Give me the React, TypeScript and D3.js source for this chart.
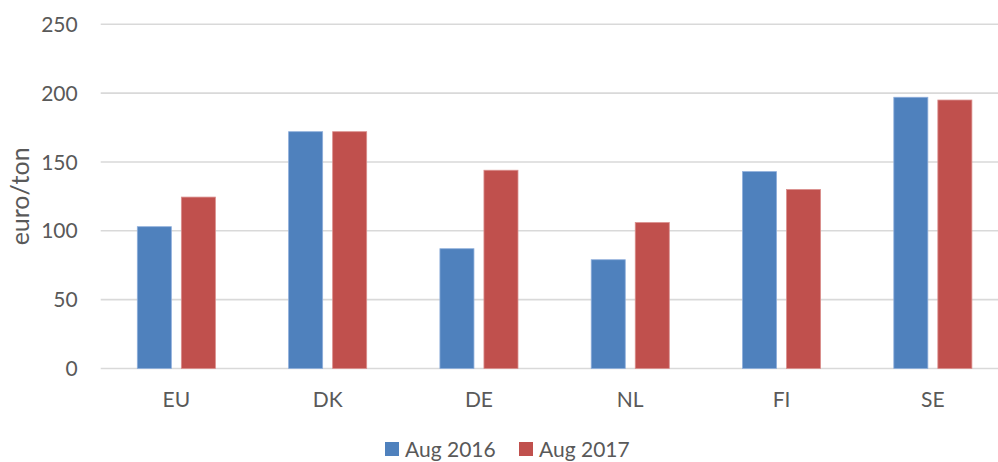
import { useEffect, useRef } from 'react'
import * as d3 from 'd3'

// Chart data
const countries = ['EU', 'DK', 'DE', 'NL', 'FI', 'SE']
const seriesNames = ['Aug 2016', 'Aug 2017']
const aug2016 = [103, 172, 87, 79, 143, 197]
const aug2017 = [124.5, 172, 144, 106, 130, 195]
const yTicks = [0, 50, 100, 150, 200, 250]

const colors = ['#4F81BD', '#C0504D']
const strokes = ['#8EAEDB', '#DA8E8C']

const WIDTH = 998
const HEIGHT = 462
const FONT = 'Lato, "Open Sans", sans-serif'
const TEXT = '#595959'

export default function App() {
  const svgRef = useRef<SVGSVGElement>(null)

  useEffect(() => {
    if (!svgRef.current) return
    const svg = d3.select(svgRef.current)
    svg.selectAll('*').remove()

    const left = 100.7
    const step = 151.3
    const right = left + step * countries.length
    const top = 24.3
    const bottom = 368.5

    const x = d3.scaleBand<string>()
      .domain(countries)
      .range([left, right])
      .paddingInner(0.484)
      .paddingOuter(0.242)

    const xSub = d3.scaleBand<string>()
      .domain(seriesNames)
      .range([0, x.bandwidth()])
      .paddingInner(0.227)

    const y = d3.scaleLinear().domain([0, 250]).range([bottom, top])

    // Gridlines
    svg.append('g')
      .selectAll('line')
      .data(yTicks)
      .join('line')
      .attr('x1', left)
      .attr('x2', right)
      .attr('y1', d => y(d))
      .attr('y2', d => y(d))
      .attr('stroke', '#D9D9D9')
      .attr('stroke-width', 1.6)

    // Y tick labels
    svg.append('g')
      .selectAll('text')
      .data(yTicks)
      .join('text')
      .attr('x', 77.7)
      .attr('y', d => y(d))
      .attr('dy', '0.36em')
      .attr('text-anchor', 'end')
      .attr('font-family', FONT)
      .attr('font-size', 21)
      .attr('fill', TEXT)
      .text(d => d)

    // Axis title
    svg.append('text')
      .attr('transform', `translate(28.5,${(top + bottom) / 2}) rotate(-90)`)
      .attr('text-anchor', 'middle')
      .attr('font-family', FONT)
      .attr('font-size', 25)
      .attr('fill', TEXT)
      .text('euro/ton')

    // Bars
    const rows = countries.map((c, i) => ({ country: c, values: [aug2016[i], aug2017[i]] }))
    const groups = svg.append('g')
      .selectAll('g')
      .data(rows)
      .join('g')
      .attr('transform', d => `translate(${x(d.country)},0)`)

    groups.selectAll('rect')
      .data(d => d.values.map((v, j) => ({ series: seriesNames[j], value: v, j })))
      .join('rect')
      .attr('x', d => xSub(d.series)!)
      .attr('y', d => y(d.value))
      .attr('width', xSub.bandwidth())
      .attr('height', d => bottom - y(d.value))
      .attr('fill', d => colors[d.j])
      .attr('stroke', d => strokes[d.j])
      .attr('stroke-width', 0.8)

    // X labels
    svg.append('g')
      .selectAll('text')
      .data(countries)
      .join('text')
      .attr('x', d => x(d)! + x.bandwidth() / 2)
      .attr('y', 407)
      .attr('text-anchor', 'middle')
      .attr('font-family', FONT)
      .attr('font-size', 21)
      .attr('fill', TEXT)
      .text(d => d)

    // Legend (the reference is cropped at the bottom; lifted a little so the descenders fit)
    const legendX = [385, 519]
    const legend = svg.append('g')
      .selectAll('g')
      .data(seriesNames)
      .join('g')
      .attr('transform', (_, i) => `translate(${legendX[i]},0)`)

    legend.append('rect')
      .attr('x', 0)
      .attr('y', 442)
      .attr('width', 14)
      .attr('height', 14)
      .attr('fill', (_, i) => colors[i])

    legend.append('text')
      .attr('x', 20)
      .attr('y', 456.5)
      .attr('font-family', FONT)
      .attr('font-size', 21)
      .attr('fill', TEXT)
      .text(d => d)
  }, [])

  return (
    <svg
      ref={svgRef}
      width={WIDTH}
      height={HEIGHT}
      style={{ position: 'absolute', left: 0, top: 0, background: '#fff', display: 'block' }}
    />
  )
}
